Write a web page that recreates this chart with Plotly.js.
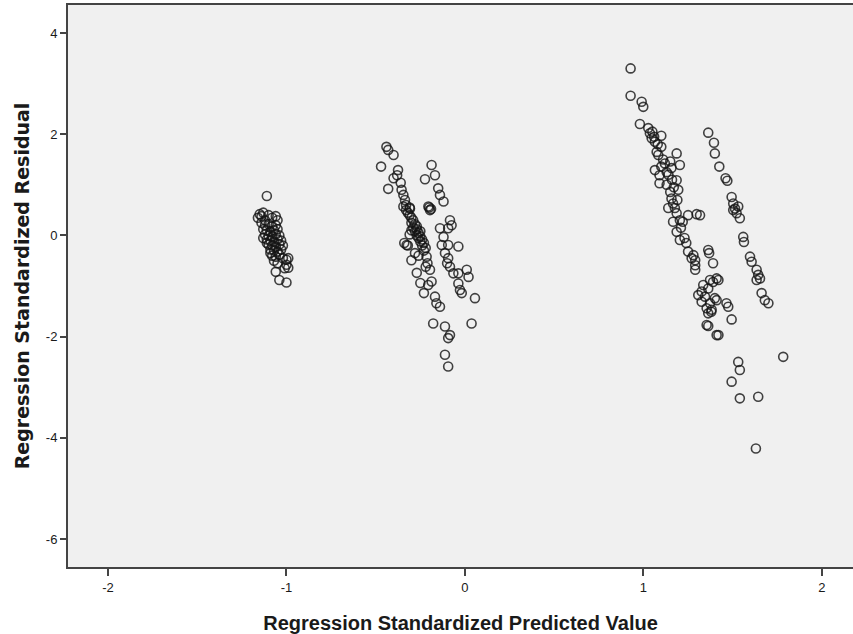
<!DOCTYPE html>
<html><head><meta charset="utf-8">
<script src="https://cdn.plot.ly/plotly-3.0.1.min.js"></script>
<style>html,body{margin:0;padding:0;background:#fff}</style>
</head><body><div id="chart" style="width:853px;height:634px"></div>
<script>
// Cluster 1 (predicted ≈ -1.1)
const x1 = [-1.11,-1.15,-1.14,-1.13,-1.16,-1.12,-1.10,-1.08,-1.06,-1.05,-1.14,-1.12,-1.10,-1.08,-1.06,-1.13,-1.11,-1.09,-1.07,-1.05,-1.12,-1.10,-1.08,-1.06,-1.04,-1.11,-1.09,-1.07,-1.05,-1.03,-1.10,-1.08,-1.06,-1.04,-1.02,-1.09,-1.07,-1.05,-1.03,-1.08,-1.06,-1.04,-1.02,-1.00,-1.00,-1.01,-1.07,-1.05,-1.06,-1.04,-1.00,-1.09,-1.11,-1.13,-0.99,-0.99];
const y1 = [0.78,0.42,0.38,0.45,0.35,0.30,0.40,0.35,0.38,0.30,0.25,0.20,0.22,0.18,0.20,0.12,0.10,0.08,0.10,0.12,0.02,0.00,-0.02,0.02,0.00,-0.08,-0.10,-0.12,-0.08,-0.10,-0.18,-0.20,-0.22,-0.18,-0.20,-0.28,-0.30,-0.32,-0.28,-0.40,-0.42,-0.38,-0.45,-0.48,-0.58,-0.65,-0.50,-0.55,-0.72,-0.88,-0.93,-0.35,-0.15,-0.05,-0.45,-0.64];
// Cluster 2 (predicted ≈ -0.5 .. 0.05)
const x2 = [-0.44,-0.43,-0.40,-0.47,-0.375,-0.38,-0.40,-0.43,-0.36,-0.355,-0.345,-0.336,-0.345,-0.308,-0.327,-0.30,-0.215,-0.21,-0.22,-0.27,-0.25,-0.23,-0.196,-0.187,-0.206,-0.168,-0.16,-0.14,-0.178,-0.112,-0.084,-0.094,-0.112,-0.094,
 -0.32,-0.31,-0.30,-0.29,-0.30,-0.28,-0.29,-0.27,-0.28,-0.26,-0.27,-0.25,-0.26,-0.24,-0.25,-0.23,-0.24,-0.22,-0.23,-0.31,-0.33,-0.34,-0.32,-0.28,-0.26,-0.30,-0.31,-0.33,-0.27,-0.25,
 -0.187,-0.168,-0.224,-0.205,-0.196,-0.15,-0.14,-0.12,-0.084,-0.075,-0.094,-0.14,-0.12,-0.13,-0.094,-0.037,-0.112,-0.094,-0.10,-0.084,-0.065,-0.037,0.01,0.02,-0.037,-0.028,-0.018,0.056,0.037,-0.20,-0.19];
const y2 = [1.75,1.69,1.59,1.36,1.29,1.19,1.13,0.92,1.04,0.90,0.80,0.70,0.57,0.53,-0.19,-0.49,-0.42,-0.55,-0.62,-0.74,-0.94,-1.14,-0.68,-0.91,-0.98,-1.21,-1.34,-1.41,-1.74,-1.80,-1.97,-2.03,-2.36,-2.59,
 0.45,0.40,0.35,0.30,0.25,0.22,0.15,0.12,0.08,0.05,0.00,-0.02,-0.05,-0.08,-0.12,-0.15,-0.20,-0.25,-0.30,0.55,0.60,-0.15,-0.20,-0.35,-0.40,0.10,0.02,0.50,0.18,0.08,
 1.39,1.19,1.11,0.57,0.50,0.93,0.80,0.67,0.30,0.20,0.14,0.14,-0.03,-0.19,-0.19,-0.22,-0.35,-0.45,-0.55,-0.62,-0.75,-0.75,-0.68,-0.82,-0.95,-1.08,-1.14,-1.24,-1.74,0.55,0.52];
// Cluster 3 (predicted ≈ 0.9 .. 1.8)
const x3 = [0.928,0.928,0.99,0.999,0.98,1.027,1.036,1.046,1.064,1.10,1.074,1.083,1.186,1.064,1.09,1.10,1.15,1.157,1.204,1.09,1.13,1.186,1.195,1.15,1.157,1.166,1.139,1.176,1.186,1.204,1.22,1.25,1.298,1.166,1.186,1.204,1.23,1.25,1.28,1.29,1.29,1.29,1.363,1.39,1.335,1.307,1.326,1.363,1.39,1.41,1.354,1.38,1.373,1.354,1.41,1.40,
 1.05,1.06,1.08,1.11,1.12,1.14,1.16,1.17,1.19,1.21,1.24,1.27,1.10,1.13,
 1.363,1.395,1.40,1.425,1.46,1.47,1.494,1.503,1.513,1.522,1.54,1.503,1.531,1.559,1.563,1.597,1.606,1.634,1.643,1.634,1.653,1.662,1.68,1.70,1.783,1.531,1.54,1.494,1.54,1.643,1.63,
 1.317,1.368,1.373,1.42,1.326,1.345,1.382,1.363,1.41,1.465,1.475,1.494,1.363,1.42];
const y3 = [3.30,2.76,2.64,2.54,2.20,2.12,2.02,1.92,1.85,1.97,1.65,1.59,1.62,1.29,1.19,1.36,1.46,1.33,1.39,1.03,1.00,1.09,0.90,0.86,0.73,0.63,0.54,0.54,0.44,0.30,0.27,0.40,0.42,0.27,0.07,-0.09,-0.05,-0.32,-0.39,-0.49,-0.59,-0.68,-0.29,-0.55,-0.98,-1.18,-1.31,-1.05,-0.92,-0.85,-1.44,-1.51,-1.34,-1.77,-1.97,-1.24,
 2.05,1.95,1.80,1.50,1.42,1.20,1.10,0.95,0.70,0.15,-0.15,-0.45,1.75,1.25,
 2.03,1.83,1.62,1.36,1.13,1.08,0.76,0.63,0.53,0.44,0.34,0.50,0.57,-0.03,-0.13,-0.42,-0.52,-0.68,-0.78,-0.88,-0.85,-1.14,-1.28,-1.34,-2.40,-2.50,-2.66,-2.89,-3.22,-3.19,-4.21,
 0.40,-0.35,-0.88,-0.88,-1.11,-1.21,-1.47,-1.54,-1.28,-1.34,-1.41,-1.66,-1.79,-1.97];

const xs = x1.concat(x2, x3);
const ys = y1.concat(y2, y3);
const xTicks = [-2,-1,0,1,2];
const yTicks = [4,2,0,-2,-4,-6];

const trace = {
  x: xs, y: ys, type: 'scatter', mode: 'markers',
  marker: {symbol: 'circle-open', size: 9, color: 'rgba(20,20,20,0.8)', line: {width: 1.6, color: 'rgba(20,20,20,0.8)'}},
  hoverinfo: 'skip'
};
const axisFont = {family: 'Liberation Sans, Arial, sans-serif', size: 13, color: '#1a1a1a'};
const layout = {
  width: 853, height: 634,
  margin: {l: 68, r: 0, t: 5, b: 67},
  paper_bgcolor: '#ffffff', plot_bgcolor: '#f0f0f0',
  showlegend: false,
  xaxis: {
    range: [-2.224, 2.174], tickvals: xTicks, ticktext: xTicks.map(String),
    showgrid: false, zeroline: false, showline: true, mirror: true,
    linecolor: '#444', linewidth: 2, ticks: 'outside', ticklen: 7, tickwidth: 2, tickcolor: '#444',
    tickfont: axisFont,
    title: {text: 'Regression Standardized Predicted Value', font: {family: 'Liberation Sans, Arial, sans-serif', size: 20, color: '#1a1a1a', weight: 'bold'}, standoff: 22}
  },
  yaxis: {
    range: [-6.553, 4.553], tickvals: yTicks, ticktext: yTicks.map(String),
    showgrid: false, zeroline: false, showline: true, mirror: false,
    linecolor: '#444', linewidth: 2, ticks: 'outside', ticklen: 6, tickwidth: 2, tickcolor: '#444',
    tickfont: axisFont,
    title: {text: 'Regression Standardized Residual', font: {family: 'DejaVu Sans, sans-serif', size: 19, color: '#1a1a1a', weight: 'bold'}, standoff: 11}
  }
};
Plotly.newPlot('chart', [trace], layout, {displayModeBar: false, staticPlot: true});
</script></body></html>
